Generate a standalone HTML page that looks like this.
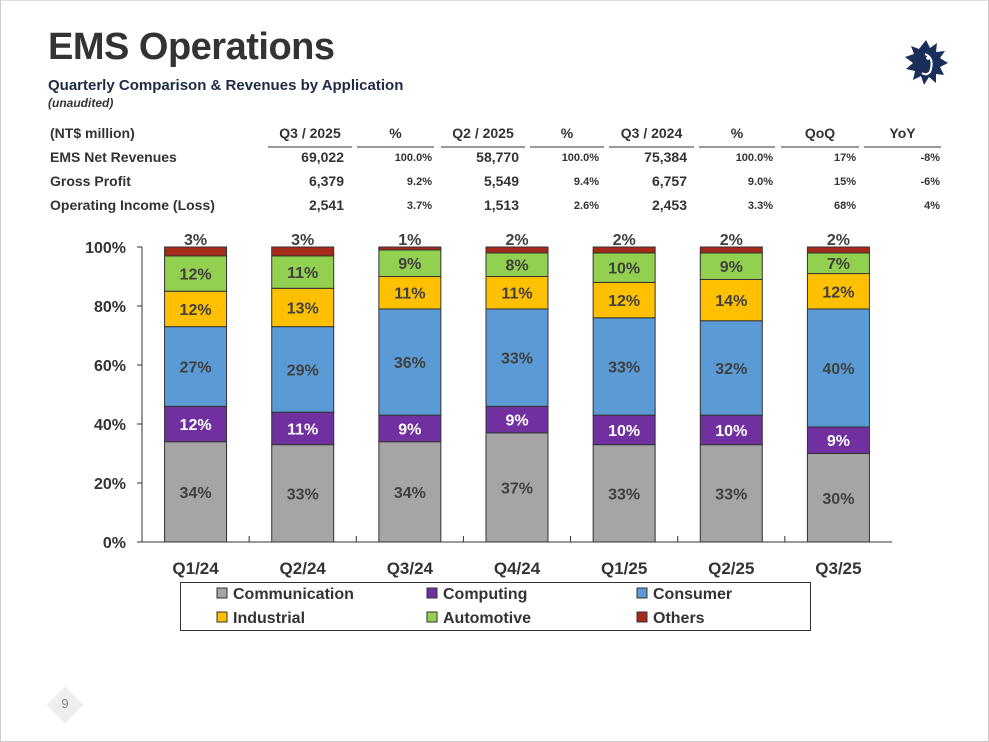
<!DOCTYPE html>
<html><head><meta charset="utf-8">
<style>
body{margin:0;width:989px;height:742px;background:#fff;position:relative;overflow:hidden;font-family:"Liberation Sans",sans-serif;color:#333}
.abs{position:absolute}
.tc{position:absolute;font-size:14px;font-weight:bold;color:#333;white-space:nowrap}
.r{text-align:right}
.sm{font-size:11px}
.ul{position:absolute;height:2px;background:#999;top:146px}
</style></head>
<body>
<div class="abs" style="left:0;top:0;width:987px;height:740px;border:1px solid #ccc;border-top-color:#ddd"></div>
<div class="abs" style="left:48px;top:26px;font-size:38px;font-weight:bold;color:#333;letter-spacing:-0.5px">EMS Operations</div>
<div class="abs" style="left:48px;top:77px;font-size:15px;font-weight:bold;color:#1f2a44">Quarterly Comparison &amp; Revenues by Application</div>
<div class="abs" style="left:48px;top:96px;font-size:12px;font-style:italic;font-weight:bold;color:#333">(unaudited)</div>
<svg class="abs" style="left:903px;top:38px" width="46" height="48" viewBox="0 0 46 48">
<polygon fill="#1b2e5a" points="23,2 27,10 34,5 33,14 42,13 37,20 45,25 37,29 41,37 33,36 33,45 26,39 21,47 18,38 10,42 12,33 3,31 10,25 2,19 11,16 8,8 16,11"/>
<path d="M22,16 q10,4 5,18 q-4,4 -8,1" fill="none" stroke="#fff" stroke-width="2"/>
<circle cx="25" cy="20" r="1.8" fill="#fff"/>
</svg>

<div>
<div class="tc" style="left:50px;top:125px">(NT$ million)</div>
<div class="tc" style="left:268px;width:84px;top:125px;text-align:center">Q3 / 2025</div>
<div class="tc" style="left:357px;width:77px;top:125px;text-align:center">%</div>
<div class="tc" style="left:441px;width:84px;top:125px;text-align:center">Q2 / 2025</div>
<div class="tc" style="left:530px;width:74px;top:125px;text-align:center">%</div>
<div class="tc" style="left:609px;width:85px;top:125px;text-align:center">Q3 / 2024</div>
<div class="tc" style="left:699px;width:76px;top:125px;text-align:center">%</div>
<div class="tc" style="left:781px;width:78px;top:125px;text-align:center">QoQ</div>
<div class="tc" style="left:864px;width:77px;top:125px;text-align:center">YoY</div>
<div class="ul" style="left:268px;width:84px"></div><div class="ul" style="left:357px;width:77px"></div>
<div class="ul" style="left:441px;width:84px"></div><div class="ul" style="left:530px;width:74px"></div>
<div class="ul" style="left:609px;width:85px"></div><div class="ul" style="left:699px;width:76px"></div>
<div class="ul" style="left:781px;width:78px"></div><div class="ul" style="left:864px;width:77px"></div>
</div>
<div id="rows"></div>

<svg class="abs" id="chart" style="left:0;top:0" width="989" height="742"></svg>

<div class="abs" style="left:180px;top:582px;width:629px;height:47px;border:1px solid #333"></div>
<div id="legend"></div>

<div class="abs" style="left:52px;top:692px;width:26px;height:26px;background:#eee;transform:rotate(45deg)"></div>
<div class="abs" style="left:55px;top:696px;width:20px;text-align:center;font-size:13px;color:#888">9</div>

<script>
const rowLabels=["EMS Net Revenues","Gross Profit","Operating Income (Loss)"];
const rowValues=[["69,022","100.0%","58,770","100.0%","75,384","100.0%","17%","-8%"],["6,379","9.2%","5,549","9.4%","6,757","9.0%","15%","-6%"],["2,541","3.7%","1,513","2.6%","2,453","3.3%","68%","4%"]];
const colRight=[344,432,519,599,687,773,856,940];
const rowsEl=document.getElementById('rows');
rowLabels.forEach((lab,i)=>{
  const y=149+i*24;
  const d=document.createElement('div');d.className='tc';d.style.left='50px';d.style.top=y+'px';d.textContent=lab;
  
  
  rowsEl.appendChild(d);
  rowValues[i].forEach((v,j)=>{
    const c=document.createElement('div');c.className='tc r'+(j%2==1||j>=6?' sm':'');
    c.style.right=(989-colRight[j])+'px';c.style.top=(y+(j%2==1||j>=6?3:0))+'px';c.textContent=v;
    
    
    rowsEl.appendChild(c);
  });
});

const categories=["Q1/24","Q2/24","Q3/24","Q4/24","Q1/25","Q2/25","Q3/25"];
const seriesNames=["Communication","Computing","Consumer","Industrial","Automotive","Others"];
const communication=[34,33,34,37,33,33,30];
const computing=[12,11,9,9,10,10,9];
const consumer=[27,29,36,33,33,32,40];
const industrial=[12,13,11,11,12,14,12];
const automotive=[12,11,9,8,10,9,7];
const others=[3,3,1,2,2,2,2];
const yTicks=[0,20,40,60,80,100];
const series=[communication,computing,consumer,industrial,automotive,others];
const colors=["#a5a5a5","#7030a0","#5b9bd5","#ffc000","#92d050","#a52a1a"];
const textColors=["#404040","#fff","#404040","#404040","#404040","#404040"];

const X0=142,X1=892,Y0=542,Y1=247;
const band=(X1-X0)/categories.length, bw=62;
const y=v=>Y0-(v/100)*(Y0-Y1);
const xc=i=>X0+band*(i+0.5);
const svg=document.getElementById('chart');
const NS='http://www.w3.org/2000/svg';
function mk(t,a){const e=document.createElementNS(NS,t);for(const k in a)e.setAttribute(k,a[k]);svg.appendChild(e);return e;}

yTicks.forEach(t=>{
  const tx=mk('text',{x:X0-16,y:y(t)+6,'text-anchor':'end','font-size':16,'font-weight':'bold',fill:'#333'});
  tx.textContent=t+'%';
  
  
  const tk=mk('line',{x1:X0-5,x2:X0,y1:y(t),y2:y(t),stroke:'#333'});
  
  
});
categories.forEach((c,i)=>{
  let cum=0;
  series.forEach((s,k)=>{
    const v=s[i];
    const r=mk('rect',{x:xc(i)-bw/2,y:y(cum+v),width:bw,height:y(cum)-y(cum+v),fill:colors[k],stroke:'#333','stroke-width':1});
    
    
    const ly=k===5?y(cum+v)-2:(y(cum)+y(cum+v))/2+6;
    const t=mk('text',{x:xc(i),y:ly,'text-anchor':'middle','font-size':16,'font-weight':'bold',fill:textColors[k]});
    t.textContent=v+'%';
    
    
    cum+=v;
  });
  const xl=mk('text',{x:xc(i),y:574,'text-anchor':'middle','font-size':17,'font-weight':'bold',fill:'#333'});
  xl.textContent=c;
  
  
  if(i>0){const tk=mk('line',{x1:X0+band*i,x2:X0+band*i,y1:Y0,y2:Y0-6,stroke:'#333'});
  
  }
});
const ax=mk('line',{x1:X0,x2:X0,y1:Y1,y2:Y0,stroke:'#333'});


const bx=mk('line',{x1:X0,x2:X1,y1:Y0,y2:Y0,stroke:'#333'});



const legX=[217,427,637], legY=[594,618];
seriesNames.forEach((n,k)=>{
  const lx=legX[k%3], ly=legY[Math.floor(k/3)];
  const r=mk('rect',{x:lx,y:ly-6,width:10,height:10,fill:colors[k],stroke:'#333'});
  
  
  const t=mk('text',{x:lx+16,y:ly+5,'font-size':16,'font-weight':'bold',fill:'#333'});
  t.textContent=n;
  
  
});
</script>
</body></html>
